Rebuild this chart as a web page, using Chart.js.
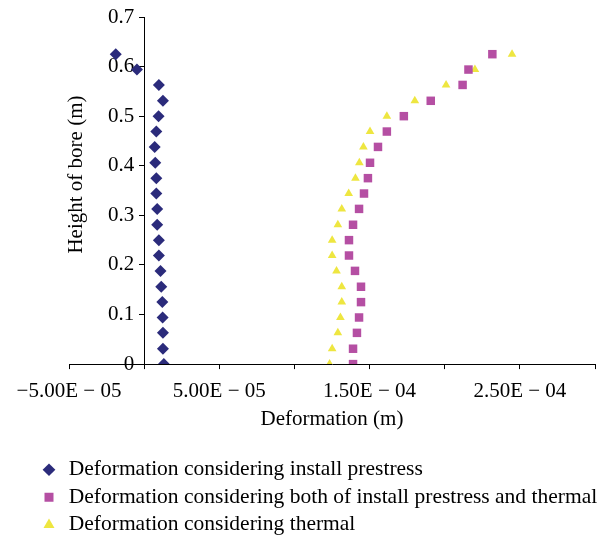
<!DOCTYPE html>
<html>
<head>
<meta charset="utf-8">
<title>Deformation along the bore</title>
<script src="https://cdn.jsdelivr.net/npm/chart.js@4.4.0/dist/chart.umd.min.js"></script>
<style>
  html, body { margin: 0; padding: 0; background: #fff; }
</style>
</head>
<body>
<canvas id="chart" width="605" height="535"></canvas>
<script>
// height of bore (m), same for all three series
const heights = [0, 0.031, 0.063, 0.094, 0.125, 0.156, 0.188, 0.219, 0.25, 0.281, 0.313,
  0.344, 0.375, 0.406, 0.438, 0.469, 0.5, 0.531, 0.563, 0.594, 0.625];

// deformation (m)
const prestress = [1.31e-5, 1.25e-5, 1.25e-5, 1.23e-5, 1.21e-5, 1.14e-5, 1.09e-5, 0.98e-5, 0.98e-5,
  0.87e-5, 0.87e-5, 0.81e-5, 0.81e-5, 0.74e-5, 0.70e-5, 0.81e-5, 0.96e-5, 1.25e-5, 0.98e-5,
  -0.48e-5, -1.89e-5];
const combined = [1.390e-4, 1.390e-4, 1.416e-4, 1.430e-4, 1.443e-4, 1.443e-4, 1.403e-4, 1.363e-4,
  1.363e-4, 1.390e-4, 1.430e-4, 1.463e-4, 1.489e-4, 1.503e-4, 1.556e-4, 1.615e-4, 1.728e-4,
  1.907e-4, 2.119e-4, 2.158e-4, 2.317e-4];
const thermal = [1.234e-4, 1.251e-4, 1.289e-4, 1.306e-4, 1.315e-4, 1.315e-4, 1.280e-4, 1.251e-4,
  1.251e-4, 1.289e-4, 1.315e-4, 1.361e-4, 1.406e-4, 1.432e-4, 1.459e-4, 1.503e-4, 1.615e-4,
  1.801e-4, 2.009e-4, 2.201e-4, 2.448e-4];

const seriesNames = [
  "Deformation considering install prestress",
  "Deformation considering both of install prestress and thermal",
  "Deformation considering thermal"
];

// only every other x tick carries a label
const xLabelValues = [-5e-5, 5e-5, 1.5e-4, 2.5e-4];
const xLabelTexts = ["\u22125.00E \u2212 05", "5.00E \u2212 05", "1.50E \u2212 04", "2.50E \u2212 04"];
const yLabelTexts = ["0", "0.1", "0.2", "0.3", "0.4", "0.5", "0.6", "0.7"];

Chart.defaults.font.family = "'Liberation Serif', 'DejaVu Serif', serif";
Chart.defaults.font.size = 21;
Chart.defaults.color = "#000";

const toPoints = xs => xs.map((x, i) => ({ x: x, y: heights[i] }));

// small layout fixes: legend block position, y title height,
// and a gap between the y labels and the axis that sits at x = 0
const placement = {
  id: "placement",
  afterLayout(chart) {
    chart.legend.left = 34;
    chart.legend.top = 453;
    chart.scales.pad.bottom -= 32;
  },
  beforeDraw(chart) {
    for (const item of chart.scales.y.getLabelItems()) {
      item.options.translation[0] -= 10;
    }
  }
};

new Chart(document.getElementById("chart"), {
  type: "scatter",
  data: {
    datasets: [
      { label: seriesNames[0], data: toPoints(prestress), yAxisID: "y", pointStyle: "rectRot",
        radius: 6, backgroundColor: "#2B2B7B", borderColor: "#2B2B7B", borderWidth: 0 },
      { label: seriesNames[1], data: toPoints(combined), yAxisID: "y", pointStyle: "rect",
        radius: 6, backgroundColor: "#B54FA3", borderColor: "#B54FA3", borderWidth: 0 },
      { label: seriesNames[2], data: toPoints(thermal), yAxisID: "y", pointStyle: "triangle",
        radius: 5, backgroundColor: "#EEE640", borderColor: "#EEE640", borderWidth: 0 }
    ]
  },
  options: {
    responsive: false,
    animation: false,
    events: [],
    layout: { padding: { top: 17, right: 8, left: 0, bottom: 0 } },
    plugins: {
      tooltip: { enabled: false },
      legend: {
        position: "bottom",
        align: "start",
        labels: { usePointStyle: true, boxWidth: 18, boxHeight: 9, padding: 6, color: "#000",
          font: { size: 21.5 } }
      }
    },
    scales: {
      // empty left axis: reserves room for the y labels and carries the y title
      pad: {
        type: "linear", axis: "y", position: "left",
        ticks: { display: false }, grid: { display: false }, border: { display: false },
        title: { display: true, text: "Height of bore (m)", padding: { top: 64, bottom: 0 } },
        afterFit(s) { s.width = 69; }
      },
      x: {
        type: "linear", min: -5e-5, max: 3e-4,
        grid: { drawOnChartArea: false, drawTicks: true, tickLength: 5, color: "#000" },
        border: { color: "#000", width: 1 },
        ticks: {
          stepSize: 5e-5, autoSkip: false, maxRotation: 0, padding: 10,
          callback(v) {
            const k = xLabelValues.findIndex(t => Math.abs(t - v) < 1e-9);
            return k < 0 ? "" : xLabelTexts[k];
          }
        },
        title: { display: true, text: "Deformation (m)", padding: { top: -7, bottom: 10 } }
      },
      y: {
        type: "linear", position: { x: 0 }, min: 0, max: 0.7,
        grid: { drawOnChartArea: false, drawTicks: true, tickLength: 5, color: "#000" },
        border: { color: "#000", width: 1 },
        ticks: {
          stepSize: 0.1,
          callback(v) { return yLabelTexts[Math.round(v * 10)]; }
        },
        title: { display: false }
      }
    }
  },
  plugins: [placement]
});
</script>
</body>
</html>
